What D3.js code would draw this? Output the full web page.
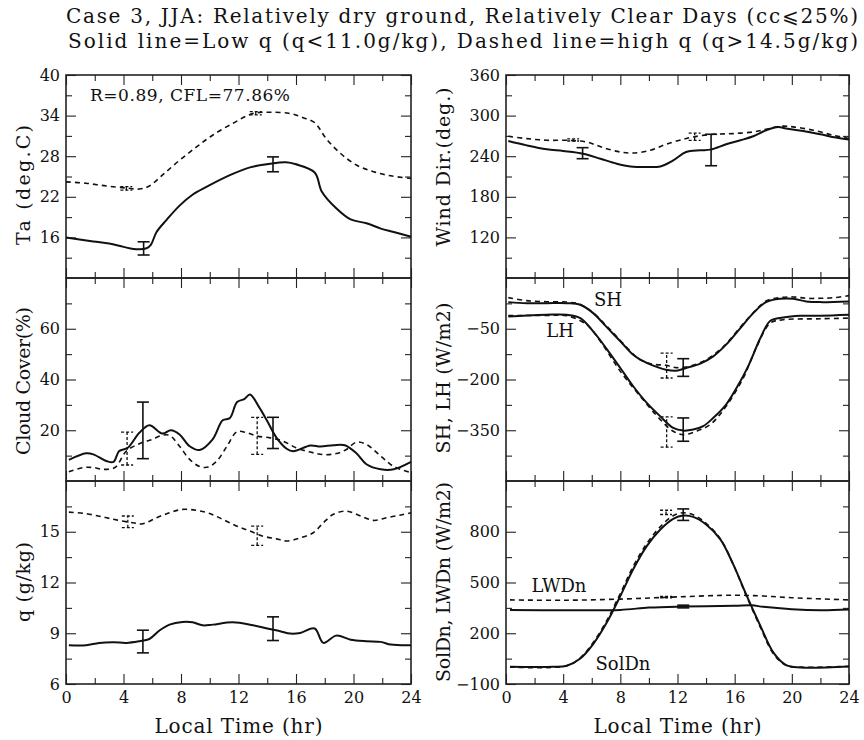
<!DOCTYPE html>
<html>
<head>
<meta charset="utf-8">
<script src="https://cdn.jsdelivr.net/npm/d3@7"></script>
<style>
  body { margin: 0; background: #fff; }
  svg { display: block; }
  text { font-family: "DejaVu Serif", "Liberation Serif", serif; fill: #111; }
</style>
</head>
<body>
<svg id="chart" width="864" height="740"></svg>
<script>
// ---- Diurnal composites, JJA case 3: [local hour, value] ----
// Air temperature (deg C)
const taLow = [[0,16.0],[1.9,15.4],[3,15.1],[4,14.6],[4.7,14.3],[5.6,14.4],[5.9,14.9],[6.3,16.8],[7,18.6],[7.9,20.7],[8.8,22.3],[9.8,23.5],[11.4,25.2],[12.8,26.35],[14.2,26.9],[15.3,27.1],[16,26.8],[17.3,25.6],[17.8,22.75],[18.8,20.3],[19.8,18.65],[20.9,18.1],[21.9,17.3],[22.8,16.8],[24,16.1]];
const taHigh = [[0,24.2],[1.4,24.0],[2.8,23.6],[4.2,23.3],[5.1,23.15],[5.8,23.6],[6.7,25.2],[7.9,27.4],[9.1,29.4],[10.2,31.1],[11.6,32.85],[13,34.3],[14.2,34.5],[15.6,34.3],[16.5,33.7],[17.3,32.95],[18.1,30.6],[19.1,28.4],[20.2,26.7],[21.4,25.7],[22.6,25.1],[24,24.7]];
const taLowBars = [[5.4,13.4,15.35],[14.4,25.7,27.9]];
const taHighBars = [[4.2,23.0,23.5],[13.2,34.1,34.6]];

// Cloud cover (%)
const ccLow = [[0.2,8.3],[1.4,10.9],[1.9,10.5],[2.8,7.9],[3.3,7.5],[3.7,11.8],[4.3,13.1],[5.1,19],[5.8,22],[6.7,18.7],[7.3,20],[7.9,18.3],[8.6,13.7],[9.3,12.2],[10.2,16.4],[10.9,23.9],[11.4,24.8],[11.9,31.1],[12.4,32.3],[12.8,34.1],[13.4,29.4],[13.95,24.1],[14.65,17],[15.35,12.7],[15.8,11.7],[17,14],[17.7,13.6],[18.6,14.1],[19.4,14.1],[20.2,10.9],[20.9,6.6],[21.9,4.6],[22.8,4.6],[24,7.5]];
const ccHigh = [[0.2,3.6],[1.2,5.3],[1.9,5.3],[2.6,4.6],[3.4,5.3],[4.2,11.8],[5.1,14.7],[6.0,16.4],[6.7,18],[7.2,18],[7.9,13.7],[8.6,8.5],[9.3,5.7],[9.9,5.5],[10.5,7.9],[11.2,13.7],[11.9,19.4],[12.6,19],[13.3,17.7],[14.2,17],[15.1,15.7],[16,13.1],[17,11.4],[17.9,10.4],[18.8,10.8],[19.5,12.4],[20.2,15.3],[20.9,14.4],[21.9,9.8],[22.8,5.7],[24,3.3]];
const ccLowBars = [[5.35,8.8,31.1],[14.4,12.8,25.1]];
const ccHighBars = [[4.25,6.3,19.3],[13.3,10.5,25.1]];

// Specific humidity (g/kg)
const qLow = [[0.2,8.29],[1.4,8.29],[2.3,8.43],[3.3,8.47],[4.2,8.43],[5.1,8.53],[5.8,8.66],[6.5,9.16],[7.2,9.51],[8.1,9.67],[8.8,9.65],[9.5,9.47],[10.2,9.51],[11.6,9.65],[13,9.47],[14,9.28],[14.9,9.12],[15.6,8.98],[16.3,9.02],[17.3,9.28],[17.9,8.43],[18.8,8.86],[19.8,8.62],[20.9,8.53],[21.9,8.49],[22.6,8.33],[24,8.29]];
const qHigh = [[0.2,16.16],[1.4,16.07],[2.6,15.87],[3.5,15.7],[4.65,15.53],[5.35,15.47],[6.3,15.83],[7.2,16.12],[8.1,16.32],[9.1,16.26],[10,16.08],[10.9,15.73],[11.9,15.33],[12.8,15.04],[13.7,14.74],[14.65,14.58],[15.35,14.45],[16.3,14.64],[17.2,14.94],[17.9,15.53],[18.6,16.03],[19.5,16.22],[20.5,15.93],[21.4,15.67],[22.3,15.83],[23.3,15.99],[24,16.12]];
const qLowBars = [[5.35,7.84,9.18],[14.4,8.57,9.97]];
const qHighBars = [[4.3,15.24,15.93],[13.3,14.2,15.33]];

// Wind direction (deg)
const wdLow = [[0.16,262.5],[1.45,256],[2.85,250.2],[4.0,247.7],[5.4,243.7],[6.6,236.3],[7.75,228.9],[8.7,224.9],[9.85,224],[10.8,224.9],[11.7,233.8],[12.6,246.2],[13.6,248.7],[14.3,249.7],[15.4,257.6],[16.4,263.5],[17.3,269.4],[18.2,278.4],[19.05,283.3],[19.6,280.8],[20.8,277.4],[22,272.4],[23.1,267.5],[24,264.5]];
const wdHigh = [[0.16,269.4],[1.45,266],[2.85,263.5],[4.25,263.5],[5.65,261],[6.8,252.6],[8,246.2],[8.9,244.7],[10.1,248.7],[11.2,257.6],[12.4,265],[13.1,268.5],[14.5,272.4],[15.9,273.4],[17.3,275.9],[18.2,279.8],[19.2,284.3],[20.1,283.3],[21.5,278.4],[22.9,270.9],[24,266]];
const wdLowBars = [[5.36,236.3,252.6],[14.35,225.9,272.4]];
const wdHighBars = [[4.7,262.5,265.5],[13.2,263.5,274]];

// Sensible and latent heat flux (W/m2)
const shLow = [[0.16,28.7],[1.45,25.7],[2.85,25.7],[4.25,25.7],[5.2,20.8],[6.1,-3.8],[7.0,-43],[8.0,-87],[8.9,-127],[9.4,-141.5],[10.3,-159],[11.2,-171],[11.9,-174],[12.6,-166],[13.6,-153],[14.5,-131.6],[15.4,-97],[16.4,-48],[17.3,-3.8],[18.2,28.7],[19.2,38.5],[20.1,38.5],[21.0,30.7],[22.0,28.7],[24,30.7]];
const shHigh = [[0.16,42],[1.45,33],[2.85,30],[4.25,29],[5.2,22],[6.1,-3],[7.0,-40],[8.0,-85],[8.9,-125],[9.4,-142],[10.3,-155],[11.2,-158],[11.9,-165],[12.6,-163],[13.6,-150],[14.5,-128],[15.4,-95],[16.4,-45],[17.3,-3],[18.2,32],[19.2,42],[20.1,44],[21.0,40],[22.0,40],[23,42],[24,48]];
const lhLow = [[0.16,-13.6],[1.45,-10.7],[2.85,-8.7],[4.25,-8.7],[5.2,-18.5],[6.1,-57.9],[7.0,-107],[8.0,-166],[8.9,-220],[9.85,-269],[10.8,-309],[11.7,-343],[12.4,-351],[13.1,-348],[13.8,-338],[14.5,-313.6],[15.4,-274],[16.4,-205],[17,-156],[17.8,-77.5],[18.5,-26.4],[19.4,-16.6],[20.6,-11.6],[22,-11.6],[24,-8.7]];
const lhHigh = [[0.16,-10.7],[2.85,-11],[4.25,-11.6],[5.65,-38],[6.6,-87],[8,-176],[9.4,-250],[10.8,-318.5],[11.7,-353],[12.4,-363],[13.3,-353],[14.3,-333],[15.4,-279],[16.6,-195.6],[17.5,-107],[18.5,-33],[19.4,-23.4],[22,-20.5],[24,-18.5]];
const shLowBars = [[12.4,-190.7,-138.5]];
const shHighBars = [[11.24,-195.6,-122]];
const lhLowBars = [[12.4,-382.5,-313.6]];
const lhHighBars = [[11.24,-400,-310.6]];

// Downward solar and longwave radiation (W/m2)
const solLow = [[0.28,2],[3.3,2],[4.25,8],[5.2,51],[6.1,136],[7.05,263],[8,420],[8.9,578],[9.85,715],[10.8,813],[11.7,876],[12.4,896],[13.1,888],[14,843],[15,755],[15.9,607],[16.8,430],[17.8,244],[18.7,87],[19.6,12],[20.6,-2],[24,4]];
const solHigh = [[0.28,0],[4.25,8],[5.2,55],[6.1,145],[7.05,275],[8,435],[8.9,595],[9.85,730],[10.8,830],[11.7,895],[12.4,912],[13.1,900],[14,850],[15,758],[15.9,607],[16.8,425],[17.8,235],[18.7,80],[19.6,10],[20.6,0],[24,4]];
const lwLow = [[0.28,338],[4,336],[8,338],[10,352],[12.4,358],[16,362],[17.2,365],[18,356],[20,342],[22,336],[24,340]];
const lwHigh = [[0.28,397],[4,395],[8,402],[12,415],[16,425],[18,420],[20,410],[24,397]];
const solLowBars = [[12.4,867,935]];
const solHighBars = [[11.2,902,927]];
const lwLowBars = [[12.4,350,366]];
const lwHighBars = [[11.2,410,418]];

// Axis ticks
const hourTicksMajor = [0,4,8,12,16,20,24];
const hourTicksMinor = [2,6,10,14,18,22];

// ---- layout ----
const svg = d3.select("#chart");
const cols = { left: [66, 411], right: [506, 849] };
const rows = [[75, 278], [278, 481], [481, 684]];

const solidStyle = { width: 2, dash: null };
const dashStyle = { width: 1.6, dash: "5,4" };

function drawPanel(p) {
  const [x0, x1] = cols[p.col];
  const [y0, y1] = rows[p.row];
  const x = d3.scaleLinear().domain([0, 24]).range([x0, x1]);
  const y = d3.scaleLinear().domain(p.domain).range([y1, y0]);
  const g = svg.append("g");

  // ticks on all four sides
  const axes = [
    { ax: d3.axisLeft(y).tickValues(p.major).tickSize(-10).tickPadding(6).tickFormat(d3.format("")), tr: `translate(${x0},0)` },
    { ax: d3.axisLeft(y).tickValues(p.minor).tickSize(-6).tickFormat(""), tr: `translate(${x0},0)` },
    { ax: d3.axisRight(y).tickValues(p.major).tickSize(-10).tickFormat(""), tr: `translate(${x1},0)` },
    { ax: d3.axisRight(y).tickValues(p.minor).tickSize(-6).tickFormat(""), tr: `translate(${x1},0)` },
    { ax: d3.axisTop(x).tickValues(hourTicksMajor).tickSize(-10).tickFormat(""), tr: `translate(0,${y0})` },
    { ax: d3.axisTop(x).tickValues(hourTicksMinor).tickSize(-6).tickFormat(""), tr: `translate(0,${y0})` },
    { ax: d3.axisBottom(x).tickValues(hourTicksMajor).tickSize(-10).tickPadding(8)
        .tickFormat(p.xLabels ? d3.format("") : ""), tr: `translate(0,${y1})` },
    { ax: d3.axisBottom(x).tickValues(hourTicksMinor).tickSize(-6).tickFormat(""), tr: `translate(0,${y1})` }
  ];
  axes.forEach(a => {
    const ag = g.append("g").attr("transform", a.tr).call(a.ax.tickSizeOuter(0));
    ag.select(".domain").remove();
    ag.selectAll("line").attr("stroke", "#222").attr("stroke-width", 1.1);
    ag.selectAll("text").attr("font-family", '"DejaVu Serif", serif').attr("font-size", 16).attr("fill", "#111");
  });

  // frame
  g.append("rect").attr("x", x0).attr("y", y0).attr("width", x1 - x0).attr("height", y1 - y0)
    .attr("fill", "none").attr("stroke", "#222").attr("stroke-width", 1.6);

  const line = d3.line().x(d => x(d[0])).y(d => y(d[1])).curve(d3.curveCatmullRom.alpha(0.5));
  p.series.forEach(s => {
    const st = s.dashed ? dashStyle : solidStyle;
    g.append("path").datum(s.data).attr("d", line)
      .attr("fill", "none").attr("stroke", "#111")
      .attr("stroke-width", st.width).attr("stroke-dasharray", st.dash);
  });

  // error bars
  p.bars.forEach(b => {
    const st = b.dashed ? { width: 1.3, dash: "3,2" } : { width: 1.6, dash: null };
    const bg = g.append("g").attr("stroke", "#111").attr("stroke-width", st.width).attr("stroke-dasharray", st.dash);
    b.data.forEach(d => {
      const cx = x(d[0]);
      bg.append("line").attr("x1", cx).attr("x2", cx).attr("y1", y(d[1])).attr("y2", y(d[2]));
      bg.append("line").attr("x1", cx - 6).attr("x2", cx + 6).attr("y1", y(d[1])).attr("y2", y(d[1]));
      bg.append("line").attr("x1", cx - 6).attr("x2", cx + 6).attr("y1", y(d[2])).attr("y2", y(d[2]));
    });
  });

  // y title
  const lx = p.col === "left" ? 23 : 443;
  svg.append("text").attr("transform", `translate(${lx},${p.labelY}) rotate(-90)`)
    .attr("text-anchor", "middle").attr("dominant-baseline", "central")
    .attr("font-size", 19).attr("textLength", p.labelLen).attr("lengthAdjust", "spacing")
    .text(p.label);

  if (p.xLabels) {
    svg.append("text").attr("x", (x0 + x1) / 2).attr("y", 733).attr("text-anchor", "middle")
      .attr("font-size", 20).attr("textLength", 168).attr("lengthAdjust", "spacing")
      .text("Local Time (hr)");
  }
  (p.notes || []).forEach(n => {
    const t = svg.append("text").attr("x", n.x).attr("y", n.y).attr("text-anchor", n.anchor || "middle")
      .attr("dominant-baseline", "central").attr("font-size", n.size || 18).text(n.text);
    if (n.len) t.attr("textLength", n.len).attr("lengthAdjust", "spacing");
  });
}

drawPanel({ col: "left", row: 0, domain: [10, 40], major: [16,22,28,34,40], minor: [13,19,25,31,37],
  label: "Ta (deg.C)", labelY: 185, labelLen: 120,
  series: [{ data: taLow }, { data: taHigh, dashed: true }],
  bars: [{ data: taLowBars }, { data: taHighBars, dashed: true }],
  notes: [{ x: 90, y: 95, text: "R=0.89, CFL=77.86%", anchor: "start", size: 17, len: 200 }] });

drawPanel({ col: "left", row: 1, domain: [0, 80], major: [20,40,60], minor: [10,30,50,70],
  label: "Cloud Cover(%)", labelY: 381, labelLen: 148,
  series: [{ data: ccLow }, { data: ccHigh, dashed: true }],
  bars: [{ data: ccLowBars }, { data: ccHighBars, dashed: true }] });

drawPanel({ col: "left", row: 2, domain: [6, 18], major: [6,9,12,15], minor: [7.5,10.5,13.5,16.5],
  label: "q (g/kg)", labelY: 582, labelLen: 80, xLabels: true,
  series: [{ data: qLow }, { data: qHigh, dashed: true }],
  bars: [{ data: qLowBars }, { data: qHighBars, dashed: true }] });

drawPanel({ col: "right", row: 0, domain: [60, 360], major: [120,180,240,300,360], minor: [90,150,210,270,330],
  label: "Wind Dir.(deg.)", labelY: 167, labelLen: 159,
  series: [{ data: wdLow }, { data: wdHigh, dashed: true }],
  bars: [{ data: wdLowBars }, { data: wdHighBars, dashed: true }] });

drawPanel({ col: "right", row: 1, domain: [-500, 100], major: [-50,-200,-350], minor: [25,-125,-275,-425],
  label: "SH, LH (W/m2)", labelY: 378, labelLen: 151,
  series: [{ data: shLow }, { data: shHigh, dashed: true }, { data: lhLow }, { data: lhHigh, dashed: true }],
  bars: [{ data: shLowBars }, { data: shHighBars, dashed: true }, { data: lhLowBars }, { data: lhHighBars, dashed: true }],
  notes: [{ x: 608, y: 299, text: "SH" }, { x: 560, y: 330, text: "LH" }] });

drawPanel({ col: "right", row: 2, domain: [-100, 1100], major: [-100,200,500,800], minor: [50,350,650,950],
  label: "SolDn, LWDn (W/m2)", labelY: 582, labelLen: 200, xLabels: true,
  series: [{ data: solLow }, { data: solHigh, dashed: true }, { data: lwLow }, { data: lwHigh, dashed: true }],
  bars: [{ data: solLowBars }, { data: solHighBars, dashed: true }, { data: lwLowBars }, { data: lwHighBars, dashed: true }],
  notes: [{ x: 559, y: 585, text: "LWDn" }, { x: 623, y: 663, text: "SolDn" }] });

// title
svg.append("text").attr("x", 462).attr("y", 23).attr("text-anchor", "middle").attr("font-size", 20)
  .attr("textLength", 792).attr("lengthAdjust", "spacing")
  .text("Case 3, JJA: Relatively dry ground, Relatively Clear Days (cc\u2A7D25%)");
svg.append("text").attr("x", 463).attr("y", 48).attr("text-anchor", "middle").attr("font-size", 20)
  .attr("textLength", 790).attr("lengthAdjust", "spacing")
  .text("Solid line=Low q (q<11.0g/kg), Dashed line=high q (q>14.5g/kg)");
</script>
</body>
</html>
